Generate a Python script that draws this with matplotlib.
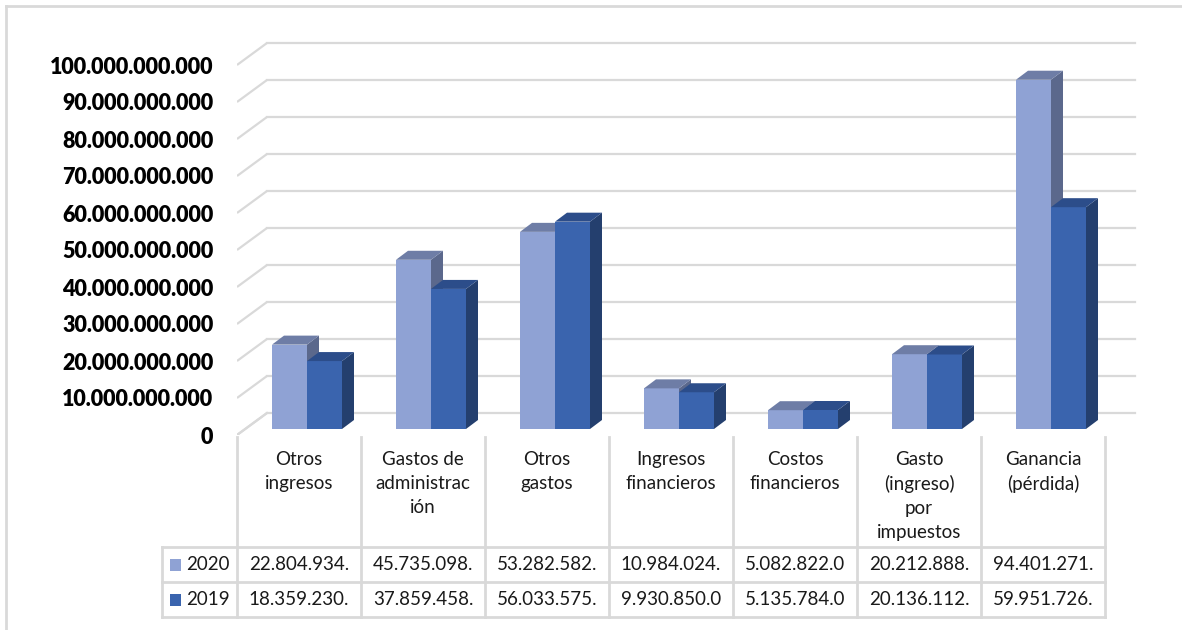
import numpy as np
import matplotlib
matplotlib.use("Agg")
import matplotlib.pyplot as plt
from matplotlib.patches import Polygon, Rectangle
from matplotlib.lines import Line2D

plt.rcParams["font.family"] = ["Lato", "DejaVu Sans"]

categories = ["Otros\ningresos", "Gastos de\nadministrac\nión", "Otros\ngastos",
              "Ingresos\nfinancieros", "Costos\nfinancieros",
              "Gasto\n(ingreso)\npor\nimpuestos", "Ganancia\n(pérdida)"]
series = ["2020", "2019"]
v2020 = [22_804_934_000, 45_735_098_000, 53_282_582_000, 10_984_024_000,
         5_082_822_000, 20_212_888_000, 94_401_271_000]
v2019 = [18_359_230_000, 37_859_458_000, 56_033_575_000, 9_930_850_000,
         5_135_784_000, 20_136_112_000, 59_951_726_000]
yticks = np.arange(0, 100e9 + 1, 10e9)

# colours: front, top, side
col = {"2020": ("#8FA2D4", "#6E7DA6", "#5B688C"),
       "2019": ("#3A64AE", "#2C4D8A", "#243F6E")}
grid_c = "#D9D9D9"

W, H = 1182, 630
PX_PER_B = 3.7          # pixels per 1e9
CAT_PX = 124.0


def fmt(v):
    return f"{v:,.0f}".replace(",", ".")


fig = plt.figure(figsize=(W / 100, H / 100), dpi=100)

# outer chart border (left and top only, rest is cropped)
fig.add_artist(Line2D([6 / W, 6 / W], [0, 1 - 6 / H], color=grid_c, lw=2))
fig.add_artist(Line2D([6 / W, 1], [1 - 6 / H, 1 - 6 / H], color=grid_c, lw=2))

# main 3D-ish plot
L, R, T, B = 237, 1140, 30, 435
ax = fig.add_axes([L / W, (H - B) / H, (R - L) / W, (B - T) / H])
ymax = (B - T) / PX_PER_B * 1e9
ax.set_xlim(0, (R - L) / CAT_PX)
ax.set_ylim(0, ymax)
for s in ax.spines.values():
    s.set_visible(False)
ax.set_xticks([])
ax.set_yticks(yticks)
ax.set_yticklabels([fmt(t) for t in yticks], fontsize=15.5, fontweight="heavy")
ax.tick_params(axis="y", length=0, pad=17)

n = len(categories)
DX = 30 / CAT_PX
DY = 22 / PX_PER_B * 1e9
for t in yticks:
    ax.plot([0, DX], [t, t + DY], color=grid_c, lw=1.6, zorder=1, solid_capstyle="butt")
    ax.plot([DX, n + DX], [t + DY, t + DY], color=grid_c, lw=1.6, zorder=1)

# bars
b0 = 6 / PX_PER_B * 1e9
off = 35 / CAT_PX
bw = 35 / CAT_PX
bdx = 12 / CAT_PX
bdy = 9 / PX_PER_B * 1e9
for i in range(n):
    for j, (name, vals) in enumerate(zip(series, [v2020, v2019])):
        v = vals[i]
        x0 = i + off + j * bw
        x1 = x0 + bw
        front, top, side = col[name]
        z = 2 + i * 0.1 + j * 0.05
        ax.bar(x0, v, width=bw, bottom=b0, align="edge", color=front, zorder=z,
               linewidth=0)
        ax.add_patch(Polygon([(x1, b0), (x1 + bdx, b0 + bdy), (x1 + bdx, b0 + v + bdy),
                              (x1, b0 + v)], closed=True, facecolor=side, lw=0, zorder=z))
        ax.add_patch(Polygon([(x0, b0 + v), (x1, b0 + v), (x1 + bdx, b0 + v + bdy),
                              (x0 + bdx, b0 + v + bdy)], closed=True, facecolor=top,
                             lw=0, zorder=z))

# data table
TT, TB = 437, 617
tx = fig.add_axes([L / W, (H - TB) / H, n * CAT_PX / W, (TB - TT) / H])
tx.set_xlim(0, n)
tx.set_ylim(TB - TT, 0)
tx.axis("off")
hdr, row = 110, 35
leg_x = -75 / CAT_PX
for i in range(n + 1):
    tx.plot([i, i], [0, hdr + 2 * row], color=grid_c, lw=2, clip_on=False)
tx.plot([leg_x, leg_x], [hdr, hdr + 2 * row], color=grid_c, lw=2, clip_on=False)
for yy in [hdr, hdr + row, hdr + 2 * row]:
    tx.plot([leg_x, n], [yy, yy], color=grid_c, lw=2, clip_on=False)
# diagonal at floor
ax.plot([0, DX], [0, DY], color=grid_c, lw=1.6, zorder=1)

for i, c in enumerate(categories):
    tx.text(i + 0.5, 14, c, ha="center", va="top", fontsize=13.5, linespacing=1.49,
            color="#1a1a1a")
for r, (name, vals) in enumerate(zip(series, [v2020, v2019])):
    yc = hdr + row * r + row / 2
    for i, v in enumerate(vals):
        tx.text(i + 0.5, yc, fmt(v)[:11], ha="center", va="center", fontsize=13.5,
                color="#1a1a1a")
    tx.add_patch(Rectangle((leg_x + 8 / CAT_PX, yc - 6), 11 / CAT_PX, 12,
                           facecolor=col[name][0], lw=0, clip_on=False))
    tx.text(leg_x + 24 / CAT_PX, yc, name, ha="left", va="center", fontsize=13.5,
            color="#1a1a1a")

fig.savefig("out.png", dpi=100)
